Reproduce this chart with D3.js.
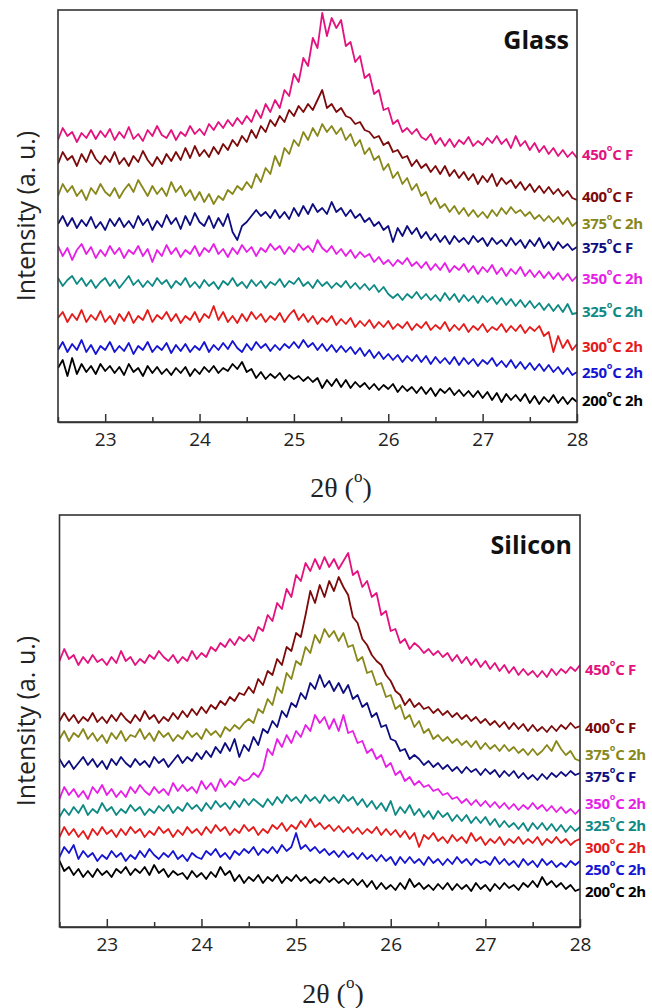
<!DOCTYPE html>
<html>
<head>
<meta charset="utf-8">
<script src="https://cdn.jsdelivr.net/npm/d3@7"></script>
<style>
  html, body { margin: 0; padding: 0; background: #fff; }
  svg { display: block; }
</style>
</head>
<body>
<svg id="chart" width="652" height="1008"></svg>
<script>
// ---------------- DATA ----------------
const twoThetaStart = 22.5;
const twoThetaStep = 0.05;
const xTicksMajor = [23, 24, 25, 26, 27, 28];
const xTicksMinor = [22.5, 23.5, 24.5, 25.5, 26.5, 27.5];
const panelTitles = ["Glass", "Silicon"];
const seriesNames = ["450", "400", "375", "375", "350", "325", "300", "250", "200"];
const seriesSuffix = ["F", "F", "2h", "F", "2h", "2h", "2h", "2h", "2h"];
const seriesColors = ["#e3127f", "#7d0a0a", "#87871a", "#0d0d80", "#e61ee6", "#0e8a84", "#e51b1b", "#1414d2", "#000000"];

// Glass (stacked intensity, a.u.)
const glass450F = [282,294,286,290,280,289,284,292,283,291,285,293,282,290,284,295,283,288,281,292,286,296,287,284,292,282,290,286,296,288,293,287,298,292,300,294,302,296,304,298,306,300,312,304,318,310,322,314,332,326,348,340,364,356,384,374,409,386,404,394,402,376,380,360,366,344,348,328,332,312,314,298,302,290,294,288,293,285,282,288,278,284,276,283,275,282,278,285,276,281,277,284,279,286,278,283,274,286,276,281,272,279,270,276,268,274,266,272,265,270,264];
const glass400F = [258,270,262,266,256,268,260,272,263,258,266,260,270,258,264,256,266,260,271,262,256,265,258,268,261,270,262,274,264,276,266,272,265,275,268,278,272,282,276,286,280,292,284,296,290,302,296,306,300,312,306,316,310,318,312,322,332,314,318,310,314,306,304,298,300,292,290,284,286,277,280,270,272,264,266,256,262,254,258,250,256,248,256,246,252,244,250,242,248,238,246,240,248,236,244,238,242,234,240,232,238,230,236,229,235,228,233,226,231,224,222];
const glass375_2h = [226,238,230,236,226,232,222,234,228,238,230,226,234,224,232,238,230,242,234,226,236,228,234,226,240,230,236,226,232,222,230,220,228,218,226,222,232,228,236,232,240,234,248,240,254,248,266,256,274,268,282,276,290,282,294,286,298,290,296,288,294,282,288,276,282,268,274,262,266,252,258,244,250,238,244,232,238,226,230,218,224,214,218,210,216,208,214,206,212,205,210,204,212,206,214,208,215,209,212,206,210,203,207,201,206,200,205,198,204,196,200];
const glass375F = [198,206,196,204,194,202,196,205,194,200,192,203,196,204,195,201,194,206,197,203,192,201,195,207,198,204,193,206,197,209,200,196,206,194,204,196,208,190,182,196,200,206,212,206,210,204,212,204,210,203,214,206,216,208,218,210,214,208,220,210,214,206,212,204,208,200,204,196,200,192,196,180,194,186,196,188,194,184,190,182,188,180,186,178,186,180,184,178,186,180,184,176,184,178,182,176,184,177,182,174,182,176,184,174,180,172,180,174,178,172,175];
const glass350_2h = [176,166,174,162,172,178,168,175,164,172,166,176,168,174,164,172,168,176,166,173,160,172,166,177,168,174,165,172,168,176,166,174,170,178,168,173,165,174,168,177,170,175,166,174,170,178,172,176,168,175,170,178,172,176,170,182,174,170,176,168,173,166,172,164,170,165,168,160,165,158,162,156,162,158,164,156,160,154,160,152,158,152,159,150,156,152,158,150,156,148,155,150,157,148,154,146,153,148,155,146,152,145,151,144,150,143,149,142,148,141,146];
const glass325_2h = [144,136,142,146,138,144,136,142,134,140,144,136,142,134,140,146,137,142,135,141,136,144,138,142,134,141,137,144,135,140,134,142,136,140,133,141,137,144,136,140,134,142,136,141,134,140,137,143,135,141,138,144,136,140,134,142,136,140,134,139,135,141,134,139,133,138,132,137,130,135,128,124,128,122,128,124,130,123,128,122,127,121,129,122,128,120,127,121,126,119,126,120,125,118,124,117,123,116,122,115,121,114,119,112,118,111,117,110,118,108,109];
const glass300_2h = [104,110,100,108,102,112,100,107,102,111,100,106,98,108,101,110,99,106,102,112,100,107,103,110,101,108,99,106,102,110,100,108,104,116,102,110,100,106,99,108,101,110,103,108,100,106,102,109,100,107,112,102,108,100,106,98,104,100,106,97,103,98,104,95,101,96,102,94,100,95,101,93,98,94,100,92,98,94,100,92,97,93,100,91,97,92,98,90,96,92,98,90,95,92,98,90,96,91,97,89,95,91,96,86,90,70,86,74,82,72,78];
const glass250_2h = [72,80,70,78,72,82,70,77,68,76,72,80,70,76,71,79,68,76,72,80,70,76,72,79,69,77,71,78,70,76,72,80,70,77,72,79,73,81,74,70,78,72,80,74,78,71,77,72,78,74,80,74,82,75,79,72,78,71,77,70,76,70,75,68,74,66,72,64,70,63,68,62,67,60,66,61,67,60,66,58,65,59,64,58,65,57,64,58,63,56,62,58,64,56,61,55,62,54,60,53,59,52,58,51,57,50,55,48,54,47,50];
const glass200_2h = [54,62,46,64,48,58,50,56,48,58,51,56,49,55,47,58,50,54,46,56,49,55,48,53,47,54,49,55,46,53,48,55,50,56,49,54,51,58,53,60,50,53,44,50,43,48,44,49,42,47,43,46,41,45,40,44,34,42,36,43,35,42,34,40,35,39,33,38,32,37,33,38,30,36,31,35,29,35,28,34,26,33,29,34,27,32,26,31,25,31,24,30,22,29,20,28,22,27,21,28,19,26,18,25,20,27,19,25,18,24,20];

// Silicon (stacked intensity, a.u.)
const si450F = [266,278,268,272,262,270,264,272,265,268,262,270,264,276,266,270,262,268,264,272,268,276,270,266,272,264,270,266,276,268,274,270,280,276,284,280,288,282,290,286,292,286,300,296,312,306,324,318,338,330,352,346,364,356,368,358,370,360,368,358,366,374,352,356,340,346,330,334,312,316,296,298,284,288,278,284,280,274,278,272,276,270,274,266,272,264,270,262,268,260,266,258,264,256,262,254,260,252,258,252,256,250,256,250,258,252,258,254,260,256,262];
const si400F = [206,214,206,212,204,210,206,214,205,210,204,212,206,214,208,204,212,206,216,208,212,204,210,206,214,208,216,210,218,212,220,214,222,218,226,222,230,226,234,232,240,234,248,242,256,252,268,262,280,276,294,290,312,336,324,342,330,346,336,350,340,332,310,304,288,282,272,266,262,252,246,236,232,222,228,220,224,218,220,214,218,212,216,210,214,208,212,206,210,204,208,202,206,200,205,198,204,198,203,196,202,196,200,195,201,196,202,198,204,199,201];
const si375_2h = [188,196,186,194,190,198,188,194,186,192,184,194,188,196,186,192,190,198,188,194,186,196,190,194,186,192,188,196,190,194,188,198,192,196,190,200,196,202,198,204,208,204,218,214,228,222,240,234,254,248,266,262,280,274,292,284,298,290,296,286,294,280,282,266,270,254,256,242,244,230,232,218,222,208,212,200,206,194,198,188,192,186,190,184,188,182,186,180,186,178,184,178,182,176,182,176,180,174,178,172,178,172,176,182,176,186,178,172,176,168,166];
const si375F = [168,160,166,158,164,170,162,168,160,166,158,168,162,170,164,160,168,162,166,160,170,164,168,160,166,172,164,170,166,174,168,176,170,180,174,184,176,188,170,182,176,190,182,198,194,206,200,216,210,224,220,234,228,244,238,252,240,246,236,244,234,242,228,232,220,224,210,214,200,202,188,186,176,178,168,172,168,162,166,160,164,158,162,156,160,154,160,155,158,152,158,153,157,150,156,151,156,149,154,148,152,147,153,148,154,150,155,151,156,152,154];
const si350_2h = [128,140,132,138,130,136,128,140,134,142,132,138,130,136,130,140,134,142,136,132,140,134,138,132,144,136,142,136,140,134,146,138,144,136,148,140,146,142,150,146,148,154,150,158,178,172,188,180,192,184,196,190,202,196,212,204,210,198,208,196,212,194,196,184,186,174,178,168,172,160,164,152,156,146,150,142,146,140,142,136,138,132,134,128,130,124,128,122,127,121,126,120,125,119,124,118,123,117,122,118,124,118,122,116,121,115,120,114,118,113,118];
const si325_2h = [110,118,112,120,114,122,112,118,114,124,116,120,112,118,114,122,116,120,112,118,114,121,116,122,114,120,116,124,118,122,116,124,118,126,120,124,118,126,120,128,122,128,124,120,128,122,130,124,132,126,130,124,132,126,130,124,132,126,130,124,132,126,130,122,128,120,126,118,124,116,126,112,120,114,122,112,118,110,116,108,116,110,114,106,112,106,112,104,110,104,110,102,108,100,106,100,104,98,104,96,104,98,104,97,103,96,102,95,101,96,100];
const si300_2h = [90,100,92,98,90,96,88,98,92,100,93,97,90,98,92,100,94,98,90,96,92,100,94,98,90,97,92,100,94,98,92,100,94,102,96,100,92,98,94,102,96,100,92,98,94,102,98,104,96,102,98,106,100,108,100,104,98,102,96,101,95,100,94,99,93,98,94,100,92,98,92,97,90,96,88,94,80,92,88,94,86,90,84,92,86,90,84,94,86,90,82,88,84,90,82,88,84,90,83,88,84,90,82,88,84,90,84,88,82,86,88];
const si250_2h = [70,80,74,82,68,76,70,74,66,72,68,76,70,74,66,72,68,76,70,78,72,68,74,70,76,68,72,66,74,70,68,76,72,78,70,74,68,76,72,78,74,80,72,78,74,80,74,82,76,80,94,78,82,76,80,74,78,72,76,70,76,70,74,68,74,68,72,66,72,66,70,62,70,64,70,64,68,62,70,64,68,62,68,63,70,64,68,62,68,64,66,62,70,63,68,62,66,60,68,62,66,60,68,62,66,60,64,60,66,62,66];
const si200_2h = [66,56,60,52,58,50,56,50,58,52,56,50,58,54,60,52,58,54,60,52,62,54,58,50,56,52,54,48,56,50,54,48,55,50,60,52,56,46,52,44,50,46,52,44,50,46,52,44,50,46,52,46,50,44,48,44,50,45,49,44,48,43,48,42,47,40,46,38,44,38,42,37,44,38,48,40,44,38,42,37,43,38,44,37,43,38,42,36,44,38,42,36,43,38,44,39,42,37,44,40,46,40,50,42,46,40,44,38,42,36,38];

const glassSeries = [glass450F, glass400F, glass375_2h, glass375F, glass350_2h, glass325_2h, glass300_2h, glass250_2h, glass200_2h];
const siliconSeries = [si450F, si400F, si375_2h, si375F, si350_2h, si325_2h, si300_2h, si250_2h, si200_2h];

// ---------------- DRAW ----------------
const svg = d3.select("#chart");
const sansFont = "'Open Sans', 'Liberation Sans', sans-serif";
const serifFont = "'Liberation Serif', 'DejaVu Serif', serif";

const panels = [
  { title: panelTitles[0], series: glassSeries, left: 58, right: 577, top: 10, bottom: 422, xTitleX: 341, xTitleY: 487 },
  { title: panelTitles[1], series: siliconSeries, left: 59.5, right: 580, top: 515, bottom: 927, xTitleX: 333, xTitleY: 993 }
];

panels.forEach(p => {
  const x = d3.scaleLinear().domain([22.5, 28]).range([p.left, p.right]);
  const y = d3.scaleLinear().domain([0, 412]).range([p.bottom, p.top]);
  const g = svg.append("g");

  const clipId = "clip-" + p.title;
  svg.append("clipPath").attr("id", clipId).append("rect")
    .attr("x", p.left).attr("y", p.top).attr("width", p.right - p.left).attr("height", p.bottom - p.top);

  const line = d3.line()
    .x((d, i) => x(twoThetaStart + i * twoThetaStep))
    .y(d => y(d));

  const order = d3.range(p.series.length).reverse();
  g.append("g").attr("clip-path", `url(#${clipId})`)
    .selectAll("path").data(order).join("path")
    .attr("d", k => line(p.series[k]))
    .attr("fill", "none")
    .attr("stroke", k => seriesColors[k])
    .attr("stroke-width", 1.8)
    .attr("stroke-linejoin", "round");

  g.append("rect")
    .attr("x", p.left).attr("y", p.top)
    .attr("width", p.right - p.left).attr("height", p.bottom - p.top)
    .attr("fill", "none").attr("stroke", "#333").attr("stroke-width", 1.6);

  const ax = d3.axisBottom(x).tickValues(xTicksMajor).tickSizeInner(-8).tickSizeOuter(0).tickPadding(11).tickFormat(d3.format("d"));
  const axG = g.append("g").attr("transform", `translate(0,${p.bottom})`).call(ax);
  axG.select(".domain").attr("stroke", "#333").attr("stroke-width", 1.6);
  axG.selectAll(".tick line").attr("stroke", "#333").attr("stroke-width", 1.5);
  axG.selectAll(".tick text").attr("font-family", sansFont).attr("font-size", 19).attr("fill", "#222");
  const axm = d3.axisBottom(x).tickValues(xTicksMinor).tickSizeInner(-5).tickSizeOuter(0).tickFormat("");
  const axmG = g.append("g").attr("transform", `translate(0,${p.bottom})`).call(axm);
  axmG.select(".domain").remove();
  axmG.selectAll(".tick line").attr("stroke", "#333").attr("stroke-width", 1.5);

  const xt = g.append("text")
    .attr("x", p.xTitleX).attr("y", p.xTitleY)
    .attr("text-anchor", "middle").attr("dominant-baseline", "central")
    .attr("font-family", serifFont).attr("font-size", 28).attr("fill", "#222");
  xt.append("tspan").text("2θ (");
  xt.append("tspan").text("o").attr("font-size", 17).attr("dy", -11);
  xt.append("tspan").text(")").attr("dy", 11);

  g.append("text")
    .attr("transform", `translate(25,${(p.top + p.bottom) / 2}) rotate(-90)`)
    .attr("text-anchor", "middle").attr("dominant-baseline", "central")
    .attr("font-family", sansFont).attr("font-size", 25).attr("fill", "#222")
    .text("Intensity (a. u.)");

  g.append("text")
    .attr("x", p.right - 8).attr("y", p.top + 29)
    .attr("text-anchor", "end").attr("dominant-baseline", "central")
    .attr("font-family", sansFont).attr("font-weight", 700).attr("font-size", 25).attr("fill", "#111")
    .text(p.title);

  const n = p.series.length;
  const labels = p.series.map((s, k) => ({ k, y: y(d3.mean(s.slice(-4))) }));
  const gap = 22;
  for (let it = 0; it < 200; it++) {
    labels.sort((a, b) => a.y - b.y);
    for (let i = 1; i < n; i++) {
      const d = labels[i].y - labels[i - 1].y;
      if (d < gap) {
        const push = (gap - d) / 2;
        labels[i].y += push; labels[i - 1].y -= push;
      }
    }
  }
  const lg = g.append("g");
  labels.forEach(l => {
    const t = lg.append("text")
      .attr("x", p.right + 5).attr("y", l.y)
      .attr("dominant-baseline", "central")
      .attr("font-family", sansFont).attr("font-weight", 700).attr("font-size", 15)
      .attr("letter-spacing", -0.3)
      .attr("fill", seriesColors[l.k]);
    t.append("tspan").text(seriesNames[l.k]);
    t.append("tspan").text("o").attr("font-size", 9).attr("baseline-shift", "super");
    t.append("tspan").text("C " + seriesSuffix[l.k]);
  });
});
</script>
</body>
</html>
